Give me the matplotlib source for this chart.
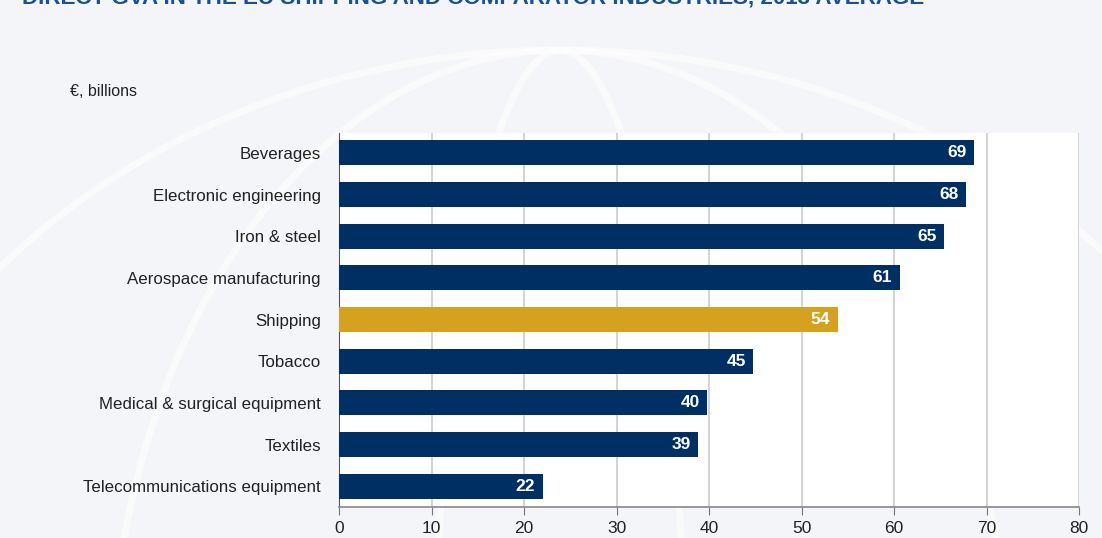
import matplotlib
matplotlib.use("Agg")
import matplotlib.pyplot as plt
from matplotlib.patches import Ellipse

categories = ["Beverages", "Electronic engineering", "Iron & steel", "Aerospace manufacturing",
              "Shipping", "Tobacco", "Medical & surgical equipment", "Textiles",
              "Telecommunications equipment"]
values = [68.6, 67.8, 65.4, 60.6, 53.9, 44.8, 39.8, 38.8, 22.0]
labels = ["69", "68", "65", "61", "54", "45", "40", "39", "22"]
highlight = "Shipping"
xticks = [0, 10, 20, 30, 40, 50, 60, 70, 80]

plt.rcParams['font.family'] = ['Liberation Sans', 'DejaVu Sans']

navy = "#003063"
gold = "#d4a21f"

fig = plt.figure(figsize=(11.02, 5.38), dpi=100)
fig.patch.set_facecolor("#f4f5f8")

# decorative background swooshes
bg = fig.add_axes([0, 0, 1, 1], zorder=-5)
bg.set_xlim(0, 1102); bg.set_ylim(538, 0); bg.axis("off")
for cx, cy, w, h in [(560, 700, 1500, 1300), (560, 700, 900, 1300), (560, 700, 250, 1300)]:
    bg.add_patch(Ellipse((cx, cy), w, h, fill=False, ec="white", lw=5, alpha=0.55))

fig.text(0.02, 1.0 + 2 / 538, "DIRECT GVA IN THE EU SHIPPING AND COMPARATOR INDUSTRIES, 2013 AVERAGE",
         color="#1f4f8f", fontsize=16.1, fontweight="bold", va="center", ha="left")
fig.text(70 / 1102, 1 - 92 / 538, "€, billions", fontsize=11.5, color="#222222", va="center")

ax = fig.add_axes([339 / 1102, 1 - 507 / 538, 740 / 1102, 374 / 538])
ax.set_facecolor("white")
y = list(range(len(categories)))
colors = [gold if c == highlight else navy for c in categories]
ax.barh(y, values, height=0.6, color=colors, zorder=3)
for yi, v, lab in zip(y, values, labels):
    ax.text(v - 0.8, yi, lab, color="white", fontsize=12.5, fontweight="bold",
            ha="right", va="center", zorder=4)

ax.set_xlim(0, 80)
ax.set_ylim(8.5, -0.48)
ax.set_xticks(xticks)
ax.set_xticklabels([str(t) for t in xticks], fontsize=12.5, color="#222222")
ax.set_yticks(y)
ax.set_yticklabels(categories, fontsize=12.2, color="#222222")
ax.tick_params(axis="y", length=0, pad=13)
ax.tick_params(axis="x", length=6, color="#777777", pad=4, direction="out")
ax.grid(axis="x", color="#cccccc", lw=1.2, zorder=0)
for s in ["top", "right"]:
    ax.spines[s].set_visible(False)
ax.spines["left"].set_color("#555555")
ax.spines["bottom"].set_color("#888888")
ax.spines["bottom"].set_linewidth(1.2)

fig.savefig("out.png", dpi=100, facecolor=fig.get_facecolor())
